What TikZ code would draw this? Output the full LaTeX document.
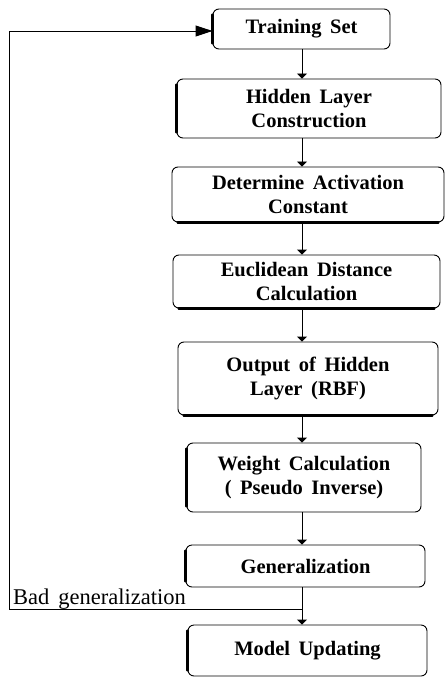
\documentclass[tikz,border=0pt]{standalone}
\usepackage{fontspec}
\setmainfont{Liberation Serif}
\usetikzlibrary{arrows.meta,calc}
\begin{document}
\begin{tikzpicture}[x=1pt,y=-1pt,
  box/.style={draw, rounded corners=6pt, line width=0.9pt, align=center, inner sep=0pt,
    font={\fontsize{20.5}{24}\selectfont\bfseries\spaceskip=0.42em\relax}},
  flow/.style={line width=0.9pt, -{Triangle[length=5pt,width=10pt]}},
  loopline/.style={line width=0.9pt, -{Triangle[length=17pt,width=11pt]}},
  thickedge/.style={line width=2.4pt, line cap=round},
  lbl/.style={font={\fontsize{22.5}{24}\selectfont\spaceskip=0.4em\relax}, inner sep=0pt}]
\useasboundingbox (0,0) rectangle (445,679);
\coordinate (spine) at (302,0);

\node[box, minimum width=177pt, minimum height=40pt] (train) at (301.5,29) {Training Set};
\node[box, minimum width=264pt, minimum height=59pt] (hid) at (309,108.5) {Hidden Layer\\Construction};
\node[box, minimum width=272pt, minimum height=55pt] (det) at (308,194.5) {Determine Activation\\Constant};
\node[box, minimum width=267pt, minimum height=53pt] (euc) at (306.5,281.5) {Euclidean Distance\\Calculation};
\node[box, minimum width=260pt, minimum height=73pt] (out) at (308,378.5) {Output of Hidden\\Layer (RBF)};
\node[box, minimum width=234pt, minimum height=69pt] (wgt) at (304,477.5) {Weight Calculation\\( Pseudo Inverse)};
\node[box, minimum width=239pt, minimum height=42pt] (gen) at (305.5,566) {Generalization};
\node[box, minimum width=239pt, minimum height=51pt] (mod) at (307.5,650.5) {Model Updating};

% thick edges
\foreach \n in {train,hid,wgt,gen,mod}{
  \draw[thickedge] ($(\n.north west)+(0,6)$) -- ($(\n.south west)+(0,-6)$);
}
\foreach \n in {det,euc,out}{
  \draw[thickedge] ($(\n.south west)+(6,0)$) -- ($(\n.south east)+(-6,0)$);
}

% flow arrows
\draw[flow] (train.south -| spine) -- (hid.north -| spine);
\draw[flow] (hid.south -| spine) -- (det.north -| spine);
\draw[flow] (det.south -| spine) -- (euc.north -| spine);
\draw[flow] (euc.south -| spine) -- (out.north -| spine);
\draw[flow] (out.south -| spine) -- (wgt.north -| spine);
\draw[flow] (wgt.south -| spine) -- (gen.north -| spine);
\draw[flow] (gen.south -| spine) -- (mod.north -| spine);

% feedback loop
\coordinate (bad) at (302,609);
\coordinate (fl) at (9,609);
\coordinate (ft) at (9,31);
\draw[loopline] (bad) -- (fl) -- (ft) -- (ft -| train.west);
\node[lbl, anchor=base west] (badlbl) at (13,604) {Bad generalization};
\end{tikzpicture}
\end{document}
